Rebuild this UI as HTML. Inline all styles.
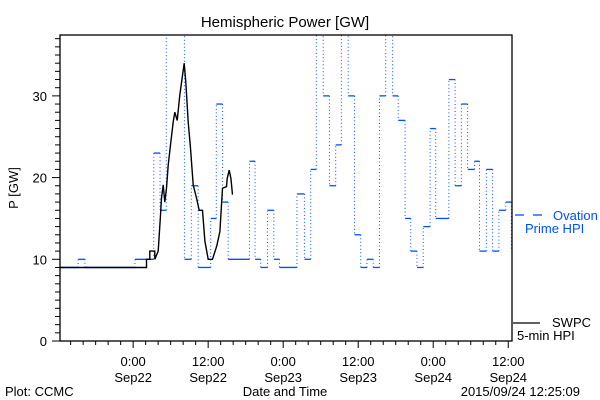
<!DOCTYPE html>
<html><head><meta charset="utf-8"><style>
html,body{margin:0;padding:0;background:#fff;}
svg{display:block;font-family:"Liberation Sans",sans-serif;}
</style></head><body>
<svg id="chart" width="600" height="400" viewBox="0 0 600 400" xmlns="http://www.w3.org/2000/svg">
<rect x="0" y="0" width="600" height="400" fill="#fff"/>
<text x="285" y="27" font-size="15" text-anchor="middle" fill="#000">Hemispheric Power [GW]</text>
<text transform="translate(18,188) rotate(-90)" font-size="13" text-anchor="middle" fill="#000">P [GW]</text>
<g id="plot"></g>
<rect x="60" y="35" width="452" height="306" fill="none" stroke="#000" stroke-width="1.3"/>
<g id="axes"></g>
<text x="285" y="396" font-size="13" text-anchor="middle" fill="#000">Date and Time</text>
<text x="5" y="396" font-size="13" fill="#000">Plot: CCMC</text>
<text x="580" y="396" font-size="13" text-anchor="end" fill="#000">2015/09/24 12:25:09</text>
<g>
<line x1="515" y1="215" x2="524" y2="215" stroke="#0050ff" stroke-width="1.3"/>
<line x1="533" y1="215" x2="542" y2="215" stroke="#0050ff" stroke-width="1.3"/>
<text x="553" y="220" font-size="13" fill="#0050ff">Ovation</text>
<text x="525" y="233" font-size="13" fill="#0050ff">Prime HPI</text>
</g>
<g>
<line x1="513" y1="323" x2="540" y2="323" stroke="#000" stroke-width="1.3"/>
<text x="552" y="327" font-size="13" fill="#000">SWPC</text>
<text x="517" y="340" font-size="13" fill="#000">5-min HPI</text>
</g>
</svg>
<script>
// Ovation Prime HPI: step start times (hours from 2015-09-22 00:00) and values (GW)
const ovTimes = [-11.7,-8.8,-7.7,0.3,3.3,4.3,5.3,8.2,9.3,10.4,12.4,13.3,14.3,15.2,18.6,19.5,20.4,21.5,22.5,23.4,26.2,27.4,28.4,29.3,30.4,31.4,32.4,33.3,34.4,35.4,36.4,37.4,38.4,39.4,40.4,41.5,42.4,43.5,44.4,45.4,46.4,47.5,48.4,50.5,51.5,52.5,53.5,54.6,55.4,56.5,57.5,58.5,59.6,60.5];
const ovValues = [9,10,9,10,23,16,45,10,19,9,15,29,17,10,22,10,9,16,10,9,18,10,21,45,30,19,24,45,30,13,9,10,9,30,45,30,27,15,11,9,14,26,15,32,19,29,21,22,11,21,11,16,17,11];
// SWPC 5-min HPI
const swTimes = [-11.7,2.14,2.14,2.67,2.67,3.47,3.47,4.0,4.38,4.54,4.8,5.07,5.34,5.6,5.98,6.4,6.67,7.04,7.47,7.9,8.16,8.43,8.8,9.18,9.6,10.14,10.56,11.1,11.47,12.0,12.7,13.4,13.87,14.3,14.94,15.04,15.36,15.63,15.9];
const swValues = [9,9,10,10,11,11,10,11,15.4,17.5,19.1,17.0,18.7,21.5,24.0,26.8,28.0,27.0,30.1,32.5,34.0,31.7,26.8,23.6,19.1,17.5,16.0,16.0,12.2,10.0,10.0,11.7,13.4,18.7,18.9,19.9,20.9,19.9,17.9];
const yTicks = [0,10,20,30];
const xTickHours = [0,12,24,36,48,60];
const xTickTimes = ["0:00","12:00","0:00","12:00","0:00","12:00"];
const xTickDates = ["Sep22","Sep22","Sep23","Sep23","Sep24","Sep24"];

const X0=60,X1=512,Y0=341,Y1=35;
const hMin=-11.7,hMax=60.6,vMax=37.45;
const xs=h=>X0+(h-hMin)/(hMax-hMin)*(X1-X0);
const ys=v=>Y0-v/vMax*(Y0-Y1);
const NS="http://www.w3.org/2000/svg";
function mk(tag,attrs,parent){const e=document.createElementNS(NS,tag);for(const k in attrs)e.setAttribute(k,attrs[k]);parent.appendChild(e);return e;}
const plot=document.getElementById('plot');
const axes=document.getElementById('axes');
mk('clipPath',{id:'clip'},plot).appendChild(Object.assign(document.createElementNS(NS,'rect'),{}));
const cr=plot.querySelector('clipPath rect');cr.setAttribute('x',X0);cr.setAttribute('y',Y1);cr.setAttribute('width',X1-X0);cr.setAttribute('height',Y0-Y1);
const g=mk('g',{'clip-path':'url(#clip)'},plot);
const ov=mk('g',{},g);


for(let i=0;i<ovTimes.length;i++){
  const xa=xs(ovTimes[i]), xb=xs(i+1<ovTimes.length?ovTimes[i+1]:hMax);
  const h=mk('line',{x1:xa,x2:xb,y1:ys(ovValues[i]),y2:ys(ovValues[i]),stroke:'#0050ff','stroke-width':1.3},ov);
  
  
  if(i+1<ovTimes.length){
    const v=mk('line',{x1:xb,x2:xb,y1:ys(ovValues[i]),y2:ys(ovValues[i+1]),stroke:'#0050ff','stroke-width':1,'stroke-dasharray':'1,2.5'},ov);
    
    
  }
}
let d='';
for(let i=0;i<swTimes.length;i++)d+=(i?'L':'M')+xs(swTimes[i]).toFixed(1)+','+ys(swValues[i]).toFixed(1);
const sw=mk('path',{d:d,fill:'none',stroke:'#000','stroke-width':1.4},g);


// y ticks
for(let v=0;v<=37;v++){
  const major=v%10===0;
  mk('line',{x1:X0-(major?8:5),x2:X0,y1:ys(v),y2:ys(v),stroke:'#000','stroke-width':1},axes);
}
yTicks.forEach(v=>{
  const t=mk('text',{x:47,y:ys(v)+5,'font-size':13,'text-anchor':'end',fill:'#000'},axes);
  t.textContent=v;
  
  
});
// x ticks
for(let h=-10;h<=60;h+=2){
  const major=h%12===0;
  mk('line',{x1:xs(h),x2:xs(h),y1:Y0,y2:Y0+(major?7:4),stroke:'#000','stroke-width':1},axes);
}
xTickHours.forEach((h,i)=>{
  const t=mk('text',{x:xs(h),y:366,'font-size':13,'text-anchor':'middle',fill:'#000'},axes);
  t.textContent=xTickTimes[i];
  
  
  const t2=mk('text',{x:xs(h),y:382,'font-size':13,'text-anchor':'middle',fill:'#000'},axes);
  t2.textContent=xTickDates[i];
  
  
});
</script>
</body></html>
